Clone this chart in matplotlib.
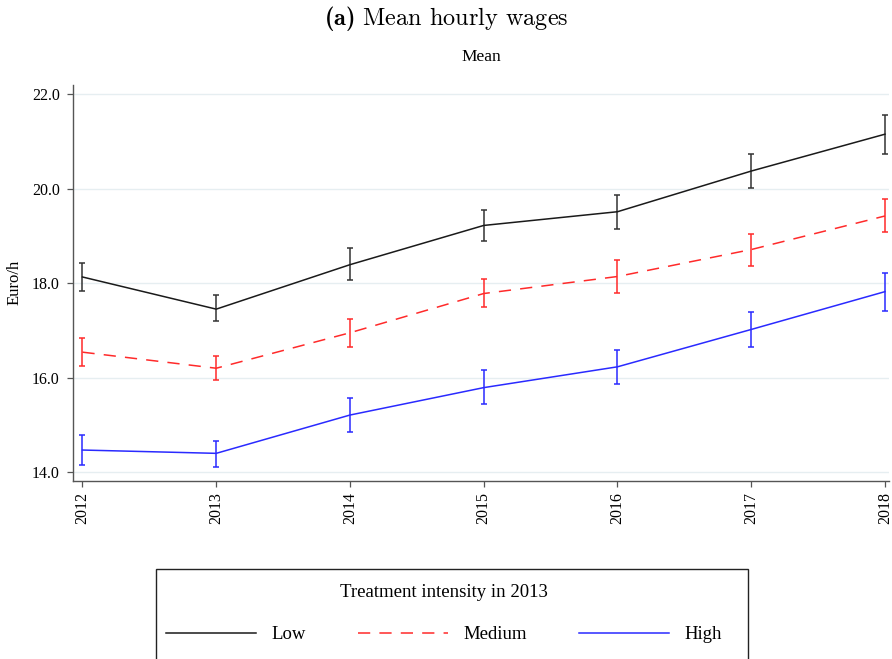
import matplotlib
matplotlib.use("Agg")
import matplotlib.pyplot as plt
from matplotlib.patches import Rectangle

years = [2012, 2013, 2014, 2015, 2016, 2017, 2018]

low_mean = [18.13, 17.45, 18.39, 19.22, 19.51, 20.37, 21.15]
low_lo = [17.84, 17.19, 18.06, 18.90, 19.14, 20.01, 20.73]
low_hi = [18.42, 17.74, 18.74, 19.55, 19.86, 20.73, 21.56]

med_mean = [16.54, 16.20, 16.95, 17.78, 18.14, 18.71, 19.42]
med_lo = [16.25, 15.95, 16.65, 17.49, 17.79, 18.37, 19.08]
med_hi = [16.83, 16.45, 17.24, 18.08, 18.48, 19.03, 19.77]

high_mean = [14.47, 14.40, 15.21, 15.79, 16.23, 17.02, 17.82]
high_lo = [14.16, 14.12, 14.86, 15.44, 15.87, 16.65, 17.41]
high_hi = [14.79, 14.67, 15.57, 16.16, 16.59, 17.38, 18.22]

yticks = [14.0, 16.0, 18.0, 20.0, 22.0]

plt.rcParams["font.family"] = ["Liberation Serif", "DejaVu Serif"]
plt.rcParams["mathtext.fontset"] = "custom"
plt.rcParams["mathtext.rm"] = "cmr10"
plt.rcParams["mathtext.bf"] = "cmb10"

fig = plt.figure(figsize=(8.92, 6.59), dpi=100)
ax = fig.add_axes([0.0815, 0.2706, 0.9151, 0.6004])

series = [
    ("Low", low_mean, low_lo, low_hi, "#1a1a1a", "#333333", "-"),
    ("Medium", med_mean, med_lo, med_hi, "#ff2a2a", "#ff2a2a", (0, (8, 6))),
    ("High", high_mean, high_lo, high_hi, "#2a2aff", "#2a2aff", "-"),
]

for name, mean, lo, hi, col, ecol, ls in series:
    err = [[m - l for m, l in zip(mean, lo)], [h - m for m, h in zip(mean, hi)]]
    ax.errorbar(years, mean, yerr=err, fmt="none", ecolor=ecol,
                elinewidth=1.1, capsize=2.3, capthick=1.1, zorder=3)
    ax.plot(years, mean, color=col, linestyle=ls, linewidth=1.1,
            label=name, zorder=4)

ax.set_xlim(2011.927, 2018.03)
ax.set_ylim(13.822, 22.19)
ax.set_xticks(years)
ax.set_xticklabels([str(y) for y in years], rotation=90)
ax.set_yticks(yticks)
ax.set_yticklabels(["%.1f" % v for v in yticks])
ax.tick_params(axis="both", labelsize=11.5, length=4.3, width=0.9,
               color="#555555")
ax.tick_params(axis="y", pad=5)
ax.tick_params(axis="x", pad=4)

ax.grid(axis="y", color="#e6eef1", linewidth=1.0, zorder=0)
ax.set_axisbelow(True)
for side in ["top", "right"]:
    ax.spines[side].set_visible(False)
for side in ["left", "bottom"]:
    ax.spines[side].set_color("#555555")
    ax.spines[side].set_linewidth(1.0)

ax.set_ylabel("Euro/h", fontsize=12)
ax.yaxis.set_label_coords(-0.062, 0.5)
ax.set_title("Mean", fontsize=12.5, pad=17)

fig.suptitle(r"$\mathbf{(a)}\ \mathrm{Mean\ hourly\ wages}$",
             fontsize=17.5, y=0.972, va="center")

# legend entries without frame, box drawn separately
leg = fig.legend(loc="upper left", bbox_to_anchor=(0.1861, 0.1138),
                 ncol=3, fontsize=13.5, title="Treatment intensity in 2013",
                 title_fontsize=13.5, handlelength=4.8, handletextpad=0.85,
                 columnspacing=2.75, borderpad=0, borderaxespad=0,
                 frameon=False)
leg._legend_box.sep = 18

fig.add_artist(Rectangle((156 / 892, -0.05), (748 - 156) / 892,
                         0.05 + 1 - 569 / 659, transform=fig.transFigure,
                         fill=False, edgecolor="#222222", linewidth=1.0))

fig.savefig("out.png", dpi=100)
